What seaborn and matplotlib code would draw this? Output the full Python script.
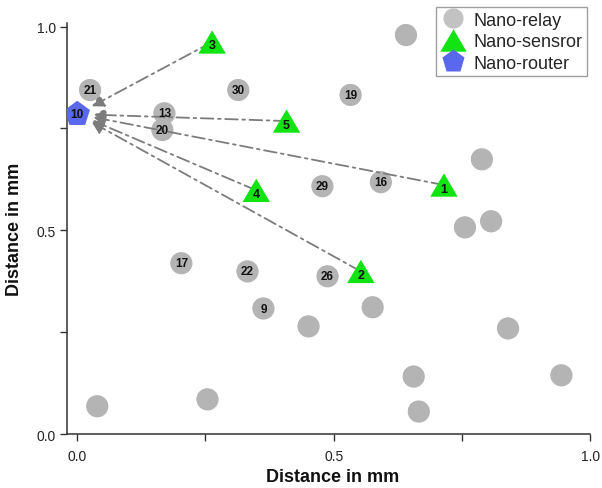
import numpy as np
import pandas as pd
import matplotlib
matplotlib.use("Agg")
import matplotlib.pyplot as plt
import seaborn as sns
from matplotlib.lines import Line2D
from matplotlib.transforms import ScaledTranslation

# ---- data ----
relay_x = [0.025, 0.170, 0.166, 0.314, 0.533, 0.641, 0.478, 0.592, 0.789, 0.756, 0.807,
           0.203, 0.332, 0.488, 0.363, 0.451, 0.576, 0.254, 0.039, 0.840, 0.656, 0.944, 0.666]
relay_y = [0.844, 0.787, 0.746, 0.844, 0.832, 0.979, 0.608, 0.618, 0.674, 0.507, 0.522,
           0.419, 0.399, 0.387, 0.308, 0.264, 0.311, 0.085, 0.068, 0.259, 0.141, 0.144, 0.055]
relay_id = ["21", "13", "20", "30", "19", "", "29", "16", "", "", "",
            "17", "22", "26", "9", "", "", "", "", "", "", "", ""]

sensor_x = [0.715, 0.553, 0.263, 0.349, 0.408]
sensor_y = [0.611, 0.399, 0.962, 0.598, 0.768]
sensor_id = ["1", "2", "3", "4", "5"]

router_x = [0.0]
router_y = [0.785]
router_id = ["10"]

legend_labels = ["Nano-relay", "Nano-sensror", "Nano-router"]
x_ticks = [0.0, 0.5, 1.0]
y_ticks = [0.0, 0.5, 1.0]
minor_ticks = [0.25, 0.75]

# ---- style ----
sns.set_style("ticks")
plt.rcParams["font.family"] = ["Liberation Sans", "DejaVu Sans"]

relay_df = pd.DataFrame({"x": relay_x, "y": relay_y, "id": relay_id})
sensor_df = pd.DataFrame({"x": sensor_x, "y": sensor_y, "id": sensor_id})
router_df = pd.DataFrame({"x": router_x, "y": router_y, "id": router_id})

fig = plt.figure(figsize=(6.02, 4.89), dpi=100)
ax = fig.add_axes([0.1113, 0.1104, 0.869, 0.8405])

GREEN = "#12e312"
BLUE = "#5a68ee"
GRAY_LINE = "#7c7c7c"

# relay spheres: layered circles to mimic shading
base_s = 255
layers = [(1.00, "#b4b4b4", 0.0), (0.80, "#bebebe", 0.6), (0.58, "#c7c7c7", 1.1),
          (0.36, "#d1d1d1", 1.6), (0.16, "#dcdcdc", 2.0)]
for frac, col, off in layers:
    tr = ax.transData + ScaledTranslation(-off / 72, off / 72, fig.dpi_scale_trans)
    sns.scatterplot(data=relay_df, x="x", y="y", s=base_s * frac, color=col,
                    edgecolor="none", linewidth=0, ax=ax, zorder=2 + frac * 0.01,
                    transform=tr, legend=False)

# arrows from sensors to router
rx, ry = router_x[0], router_y[0]
for sx, sy in zip(sensor_x, sensor_y):
    ax.annotate("", xy=(rx, ry), xytext=(sx, sy),
                arrowprops=dict(arrowstyle="-|>,head_length=0.5,head_width=0.28",
                                color=GRAY_LINE, lw=1.3,
                                linestyle=(0, (7, 2.5, 1.5, 2.5)),
                                shrinkA=0, shrinkB=12, mutation_scale=14),
                zorder=3)

tri = [(-1.0, -0.85), (1.0, -0.85), (0.0, 0.85)]
sns.scatterplot(data=sensor_df, x="x", y="y", marker=tri, s=390, color=GREEN,
                edgecolor="none", linewidth=0, ax=ax, zorder=4, legend=False)
sns.scatterplot(data=router_df, x="x", y="y", marker="p", s=370, color=BLUE,
                edgecolor="none", linewidth=0, ax=ax, zorder=4, legend=False)

# labels
for x, y, t in zip(relay_x, relay_y, relay_id):
    if t:
        ax.annotate(t, (x, y), ha="center", va="center", fontsize=8.5,
                    fontweight="bold", color="#111111", zorder=6)
for x, y, t in zip(sensor_x, sensor_y, sensor_id):
    ax.annotate(t, (x, y), xytext=(0, -2.5), textcoords="offset points",
                ha="center", va="center", fontsize=9, fontweight="bold",
                color="#111111", zorder=6)
for x, y, t in zip(router_x, router_y, router_id):
    ax.annotate(t, (x, y), ha="center", va="center", fontsize=8.5,
                fontweight="bold", color="#111111", zorder=6)

# axes
ax.set_xlim(-0.02, 1.0)
ax.set_ylim(0.0, 1.0086)
ax.set_xticks(x_ticks)
ax.set_yticks(y_ticks)
ax.set_xticks(minor_ticks, minor=True)
ax.set_yticks(minor_ticks, minor=True)
ax.set_xticklabels([f"{v:.1f}" for v in x_ticks])
ax.set_yticklabels([f"{v:.1f}" for v in y_ticks])
ax.tick_params(which="both", direction="out", length=5, width=1.0, color="#333333",
               labelsize=10, labelcolor="#222222")
ax.tick_params(axis="x", which="major", pad=6)
ax.tick_params(axis="y", which="major", pad=3)
sns.despine(ax=ax)
for sp in ["left", "bottom"]:
    ax.spines[sp].set_linewidth(1.1)
    ax.spines[sp].set_color("#333333")

ax.set_xlabel("Distance in mm", fontsize=13, fontweight="bold", color="#111111")
ax.set_ylabel("Distance in mm", fontsize=13, fontweight="bold", color="#111111")
ax.xaxis.set_label_coords(0.507, -0.083)
ax.yaxis.set_label_coords(-0.084, 0.5)

# legend
handles = [
    Line2D([], [], linestyle="none", marker="o", markersize=14.5, markerfacecolor="#c2c2c2",
           markeredgecolor="none"),
    Line2D([], [], linestyle="none", marker=tri, markersize=19, markerfacecolor=GREEN,
           markeredgecolor="none"),
    Line2D([], [], linestyle="none", marker="p", markersize=17, markerfacecolor=BLUE,
           markeredgecolor="none"),
]
leg = ax.legend(handles, legend_labels, loc="upper right",
                bbox_to_anchor=(587 / 602, 1 - 8 / 489), bbox_transform=fig.transFigure,
                fontsize=13, frameon=True, fancybox=False, borderaxespad=0,
                labelspacing=0.25, handlelength=1.4, handletextpad=0.45,
                borderpad=0.25)
leg.get_frame().set_edgecolor("#888888")
leg.get_frame().set_linewidth(1.0)

fig.savefig("out.png", dpi=100)
